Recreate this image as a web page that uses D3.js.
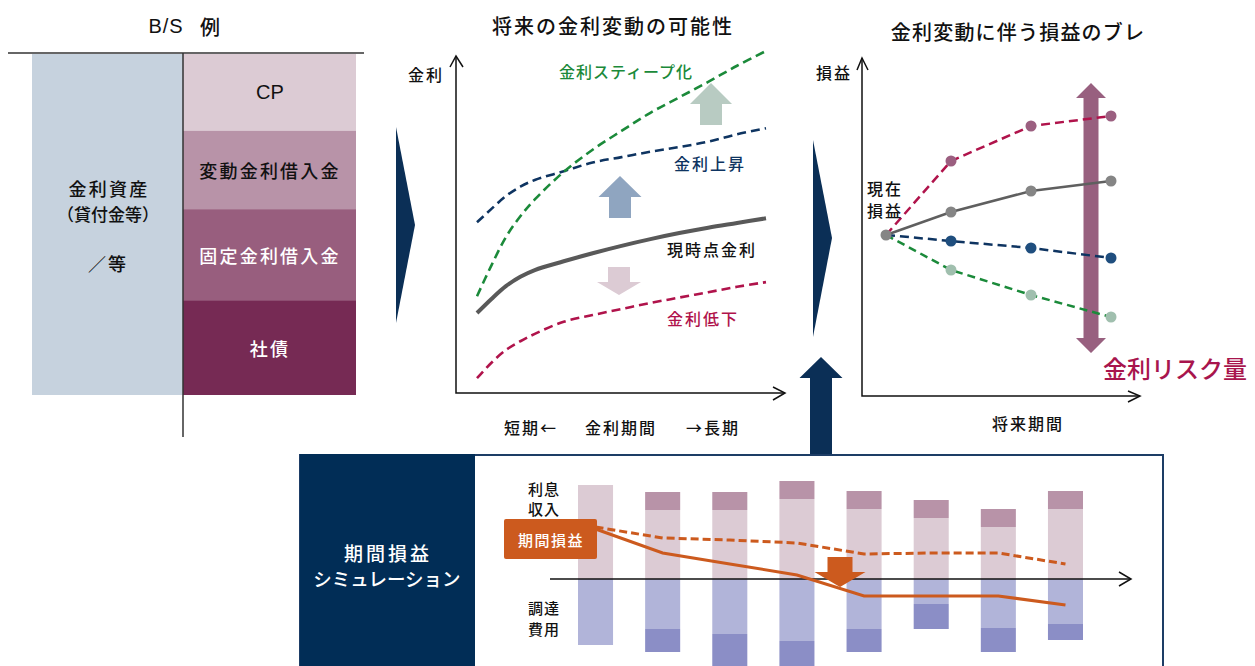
<!DOCTYPE html>
<html>
<head>
<meta charset="utf-8">
<script src="https://cdnjs.cloudflare.com/ajax/libs/d3/7.8.5/d3.min.js"></script>
<style>
    body { margin: 0; background: #fff; }
    svg text { font-family: "Noto Sans CJK JP", "Noto Sans", sans-serif; font-weight: 500; }
</style>
</head>
<body>
<svg width="1255" height="666"></svg>
<script>
    // ---- B/S example (share of balance sheet height, %)
    var bsItems = ["CP", "変動金利借入金", "固定金利借入金", "社債"];
    var bsShares = [22.5, 23, 26.7, 27.8];
    var bsColors = ["#dccbd4", "#b893a8", "#985e7e", "#762a54"];
    var bsTextColors = ["#111", "#111", "#fff", "#fff"];

    // ---- yield curves (term in years -> rate %)
    var terms = [0, 0.5, 1, 1.5, 2, 3, 4, 5, 6, 7, 8, 9, 10];
    var rateNow = [1.19, 1.40, 1.59, 1.73, 1.83, 1.96, 2.08, 2.19, 2.29, 2.38, 2.46, 2.53, 2.60];
    var rateUp = [2.54, 2.74, 2.93, 3.07, 3.17, 3.30, 3.43, 3.51, 3.59, 3.66, 3.74, 3.85, 3.94];
    var rateSteep = [1.44, 1.90, 2.32, 2.63, 2.88, 3.29, 3.62, 3.90, 4.17, 4.40, 4.63, 4.87, 5.09];
    var rateDown = [0.22, 0.45, 0.64, 0.77, 0.88, 1.06, 1.16, 1.25, 1.34, 1.42, 1.50, 1.58, 1.65];

    // ---- P/L paths over future periods
    var periods = [0, 1, 2, 3];
    var plDown = [0, 74, 109, 119];
    var plNow = [0, 23, 44, 54];
    var plUp = [0, -6, -13, -23];
    var plSteep = [0, -35, -60, -82];

    // ---- period P/L simulation
    var simPeriods = [1, 2, 3, 4, 5, 6, 7, 8];
    var incomeBase = [94, 69, 69, 80, 70, 61, 52, 70];
    var incomeAdd = [0, 18, 18, 18, 18, 18, 18, 18];
    var costBase = [66, 50, 55, 62, 50, 25, 49, 45];
    var costAdd = [0, 23, 33, 29, 23, 25, 24, 16];
    var profitBase = [52, 41, 39, 36, 25, 26, 26, 15];
    var profitShock = [50, 26, 15, 4, -17, -17, -17, -26];

    var svg = d3.select("svg");
    var navy = "#0b2f56";

    function label(x, y, txt, size, color, ls, anchor) {
        return svg.append("text")
            .attr("x", x).attr("y", y)
            .attr("text-anchor", anchor || "middle")
            .attr("dominant-baseline", "central")
            .style("font-size", size + "px")
            .style("letter-spacing", (ls || 0) + "px")
            .attr("fill", color || "#111")
            .text(txt);
    }

    // block arrow from tip to tail
    function blockArrow(cx, tip, tail, headW, shaftW, headH, fill) {
        var d = tail > tip ? 1 : -1;
        var hb = tip + d * headH;
        var p = [[cx, tip], [cx + headW / 2, hb], [cx + shaftW / 2, hb], [cx + shaftW / 2, tail],
            [cx - shaftW / 2, tail], [cx - shaftW / 2, hb], [cx - headW / 2, hb]];
        svg.append("path").attr("d", "M" + p.join("L") + "Z").attr("fill", fill);
    }

    function openHead(tx, ty, ax1, ay1, ax2, ay2) {
        svg.append("path")
            .attr("d", "M" + ax1 + "," + ay1 + "L" + tx + "," + ty + "L" + ax2 + "," + ay2)
            .attr("fill", "none").attr("stroke", "#111").attr("stroke-width", 1.5);
    }

    // ================= B/S
    label(166, 26, "B/S", 20, "#111", 1).style("font-family", "'Liberation Sans'").style("font-weight", 400);
    label(210, 26, "例", 20, "#111", 0);
    var yBS = d3.scaleLinear().domain([0, 100]).range([54, 395]);
    svg.append("rect").attr("x", 32).attr("y", yBS(0)).attr("width", 151)
        .attr("height", yBS(100) - yBS(0)).attr("fill", "#c6d2de");
    var cum = d3.cumsum(bsShares);
    bsItems.forEach(function(name, i) {
        var y0 = yBS(cum[i] - bsShares[i]), y1 = yBS(cum[i]);
        svg.append("rect").attr("x", 183).attr("y", y0).attr("width", 173)
            .attr("height", y1 - y0).attr("fill", bsColors[i]);
        var t = label(270, (y0 + y1) / 2, name, i === 0 ? 20 : 18, bsTextColors[i], i === 0 ? 0 : 2.2);
        if (i === 0) t.style("font-family", "'Liberation Sans'").style("font-weight", 400);
    });
    svg.append("line").attr("x1", 8).attr("x2", 364).attr("y1", 53).attr("y2", 53)
        .attr("stroke", "#333").attr("stroke-width", 1.5);
    svg.append("line").attr("x1", 183).attr("x2", 183).attr("y1", 53).attr("y2", 437)
        .attr("stroke", "#333").attr("stroke-width", 1.5);
    label(109, 188, "金利資産", 18, "#111", 2.2);
    label(108, 213, "（貸付金等）", 17, "#111", 0);
    label(108, 263, "／等", 18, "#111", 2);

    // chevrons
    svg.append("path").attr("d", "M396,127L415,225L396,323Z").attr("fill", navy);
    svg.append("path").attr("d", "M813,140L832,238L813,337Z").attr("fill", navy);

    // ================= yield curve panel
    label(613, 25, "将来の金利変動の可能性", 20, "#111", 2);
    var xR = d3.scaleLinear().domain([0, 10]).range([477, 766]);
    var yR = d3.scaleLinear().domain([0, 5]).range([393, 57]);
    svg.append("path").attr("d", "M456,56L456,393L785,393").attr("fill", "none")
        .attr("stroke", "#111").attr("stroke-width", 1.5);
    openHead(456, 56, 450, 67, 463, 67);
    openHead(785, 393, 773, 387, 773, 400);

    var rateLine = d3.line().x(function(d, i) { return xR(terms[i]); })
        .y(function(d) { return yR(d); }).curve(d3.curveCatmullRom.alpha(0.5));

    // arrows between curves
    blockArrow(711, 83, 125, 42, 22, 21, "#b8cbc2");
    blockArrow(620, 176, 218, 43, 22, 21, "#8fa5c0");
    blockArrow(619, 295, 267, 44, 22, 13, "#dccbd4");

    svg.append("path").attr("d", rateLine(rateDown)).attr("fill", "none")
        .attr("stroke", "#b0134b").attr("stroke-width", 2.6).attr("stroke-dasharray", "9,5");
    svg.append("path").attr("d", rateLine(rateUp)).attr("fill", "none")
        .attr("stroke", "#0e3461").attr("stroke-width", 2.6).attr("stroke-dasharray", "9,5");
    svg.append("path").attr("d", rateLine(rateSteep)).attr("fill", "none")
        .attr("stroke", "#1b8a3a").attr("stroke-width", 2.6).attr("stroke-dasharray", "9,5");
    svg.append("path").attr("d", rateLine(rateNow)).attr("fill", "none")
        .attr("stroke", "#595959").attr("stroke-width", 4);

    label(426, 74, "金利", 16, "#111", 2);
    label(626, 71, "金利スティープ化", 16, "#1b8a3a", 1);
    label(710, 163, "金利上昇", 16, "#0e3461", 2);
    label(712, 249, "現時点金利", 16, "#111", 2);
    label(703, 318, "金利低下", 16, "#b0134b", 2);
    label(531, 427, "短期←", 16, "#111", 2);
    label(621, 427, "金利期間", 16, "#111", 2);
    label(713, 427, "→長期", 16, "#111", 2);

    // ================= P/L fluctuation panel
    label(1018, 31, "金利変動に伴う損益のブレ", 20, "#111", 1.2);
    var xP = d3.scaleLinear().domain([0, 1, 3]).range([886, 951, 1111]);
    var yP = d3.scaleLinear().domain([-100, 100]).range([335, 135]);
    svg.append("path").attr("d", "M862,58L862,396L1140,396").attr("fill", "none")
        .attr("stroke", "#111").attr("stroke-width", 1.5);
    openHead(862, 58, 857, 70, 868, 70);
    openHead(1140, 396, 1128, 391, 1128, 402);

    // risk range arrow
    var arrTop = yP(152), arrBot = yP(-118);
    svg.append("path").attr("fill", "#98607f").attr("d",
        "M1091," + arrTop + "L1106," + (arrTop + 15) + "L1098.5," + (arrTop + 15) +
        "L1098.5," + (arrBot - 15) + "L1106," + (arrBot - 15) + "L1091," + arrBot +
        "L1076," + (arrBot - 15) + "L1083.5," + (arrBot - 15) + "L1083.5," + (arrTop + 15) +
        "L1076," + (arrTop + 15) + "Z");

    var plLine = d3.line().x(function(d, i) { return xP(periods[i]); }).y(function(d) { return yP(d); });
    var plSeries = [
        { v: plDown, line: "#b0134b", dot: "#9b5f80", dash: "9,5" },
        { v: plSteep, line: "#1b8a3a", dot: "#a0bfae", dash: "8,5" },
        { v: plUp, line: "#0e3461", dot: "#1f4e7e", dash: "9,5" },
        { v: plNow, line: "#5f5f5f", dot: "#858585", dash: null }
    ];
    plSeries.forEach(function(s) {
        svg.append("path").attr("d", plLine(s.v)).attr("fill", "none")
            .attr("stroke", s.line).attr("stroke-width", 2.5)
            .attr("stroke-dasharray", s.dash);
    });
    plSeries.forEach(function(s) {
        svg.selectAll(null).data(s.v.slice(1)).enter().append("circle")
            .attr("cx", function(d, i) { return xP(periods[i + 1]); })
            .attr("cy", function(d) { return yP(d); })
            .attr("r", 5.5).attr("fill", s.dot);
    });
    svg.append("circle").attr("cx", xP(0)).attr("cy", yP(0)).attr("r", 5.5).attr("fill", "#858585");

    label(834, 72, "損益", 16, "#111", 2);
    label(885, 188, "現在", 16, "#111", 2);
    label(885, 210, "損益", 16, "#111", 2);
    label(1028, 423, "将来期間", 16, "#111", 2);
    label(1175, 367, "金利リスク量", 24, "#a8154d", 0);

    // navy arrow to simulation
    blockArrow(821, 357, 456, 43, 22, 21, navy);

    // ================= simulation box
    svg.append("rect").attr("x", 300).attr("y", 455).attr("width", 863).attr("height", 220)
        .attr("fill", "#fff").attr("stroke", "#1d3d66").attr("stroke-width", 2);
    svg.append("rect").attr("x", 300).attr("y", 454).attr("width", 175).attr("height", 222).attr("fill", "#012d56");
    label(388, 552, "期間損益", 19, "#fff", 3);
    label(387, 578, "シミュレーション", 18.5, "#fff", 0);

    var xB = d3.scaleBand().domain(simPeriods).range([578, 1083]).paddingInner(0.478);
    var yB = d3.scaleLinear().domain([-100, 100]).range([679, 479]);
    var bw = xB.bandwidth();
    simPeriods.forEach(function(p, i) {
        var x = xB(p);
        svg.append("rect").attr("x", x).attr("y", yB(incomeBase[i])).attr("width", bw)
            .attr("height", yB(0) - yB(incomeBase[i])).attr("fill", "#dccbd4");
        svg.append("rect").attr("x", x).attr("y", yB(incomeBase[i] + incomeAdd[i])).attr("width", bw)
            .attr("height", yB(incomeBase[i]) - yB(incomeBase[i] + incomeAdd[i])).attr("fill", "#b893a8");
        svg.append("rect").attr("x", x).attr("y", yB(0)).attr("width", bw)
            .attr("height", yB(-costBase[i]) - yB(0)).attr("fill", "#b1b4d9");
        svg.append("rect").attr("x", x).attr("y", yB(-costBase[i])).attr("width", bw)
            .attr("height", yB(-costBase[i] - costAdd[i]) - yB(-costBase[i])).attr("fill", "#8b8ec6");
    });

    svg.append("line").attr("x1", 550).attr("x2", 1131).attr("y1", yB(0)).attr("y2", yB(0))
        .attr("stroke", "#111").attr("stroke-width", 1.5);
    openHead(1131, yB(0), 1119, yB(0) - 7, 1119, yB(0) + 7);

    var profitLine = d3.line().x(function(d, i) { return xB(simPeriods[i]) + bw / 2; })
        .y(function(d) { return yB(d); });
    svg.append("path").attr("d", profitLine(profitBase)).attr("fill", "none")
        .attr("stroke", "#cc5a1e").attr("stroke-width", 3).attr("stroke-dasharray", "8,4");
    svg.append("path").attr("d", profitLine(profitShock)).attr("fill", "none")
        .attr("stroke", "#cc5a1e").attr("stroke-width", 3);

    blockArrow(840, 587, 557, 51, 25, 15, "#cc5a1e");

    svg.append("rect").attr("x", 504).attr("y", 519).attr("width", 93).attr("height", 40)
        .attr("rx", 2).attr("fill", "#cc5a1e");
    label(551, 539, "期間損益", 15, "#fff", 1.5);

    label(544, 488, "利息", 15, "#111", 1);
    label(544, 508, "収入", 15, "#111", 1);
    label(544, 607, "調達", 15, "#111", 1);
    label(544, 628, "費用", 15, "#111", 1);
</script>
</body>
</html>
